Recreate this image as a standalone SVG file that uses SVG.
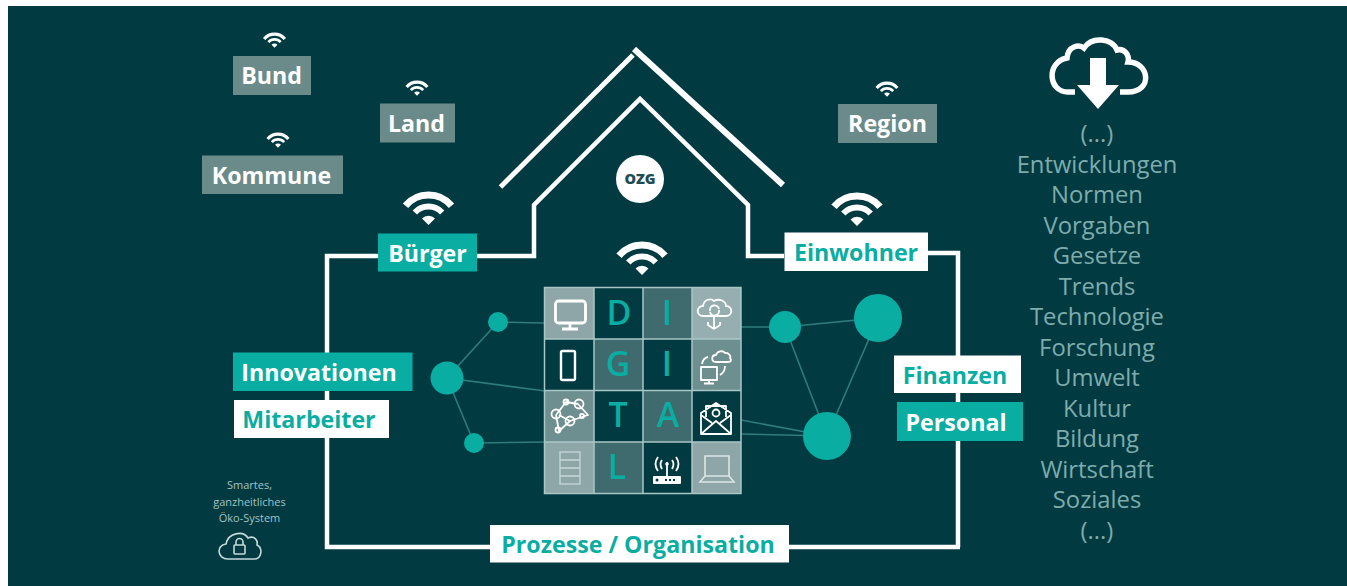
<svg xmlns="http://www.w3.org/2000/svg" width="1347" height="586" viewBox="0 0 1347 586">
<style>
text{font-family:"Open Sans","Noto Sans","Liberation Sans",sans-serif}
.lb{font-size:23.200px;font-weight:700;text-anchor:middle}
.w{fill:#fff}.t{fill:#09ada1}.g{fill:#6b8a8a}
.hs{fill:none;stroke:#fff;stroke-width:4.500}
.nl{stroke:#2f7c7c;stroke-width:1.600;fill:none}
.nd{fill:#09ada1}
.ic{fill:none;stroke:#fff;stroke-width:1.800;stroke-linejoin:round}
.big{font-size:34px;font-weight:600;text-anchor:middle;fill:#09ada1}
.rt{font-size:23.800px;fill:#7eacac;text-anchor:middle}
.sm{font-size:11px;fill:#a3c2c2;text-anchor:middle}
.cl{stroke:#a9c6c6;stroke-width:1.500}
</style>
<defs>
<g id="wifi">
<path d="M-23 -19.300A30 30 0 0 1 23 -19.300" transform="translate(0,17)" fill="none" stroke="#fff" stroke-width="7"/>
<path d="M-13.700 -12.400A18.500 18.500 0 0 1 13.700 -12.400" transform="translate(0,17)" fill="none" stroke="#fff" stroke-width="6"/>
<path d="M0 17L-6.500 10.500A9 9 0 0 1 6.500 10.500Z" fill="#fff"/>
</g>
</defs>
<rect width="1347" height="586" fill="#fff"/>
<rect x="8" y="6" width="1339" height="580" fill="#023a42"/>

<g id="connectors">
<path class="hs" d="M378 256H327V547H960M958 547V253H928M784 256H748V205L640 99L534 205V256H477"/>
<path d="M500.500 187L633 55" fill="none" stroke="#fff" stroke-width="5"/>
<path d="M634 49L783 185" fill="none" stroke="#fff" stroke-width="6"/>
<path class="nl" d="M498 322L545 323M498 322L447 378L474 443L545 442M447 378L545 391M741 327L785 327L878 318L827 436L785 327M741 420L827 436M741 434L827 436"/>
</g>

<g id="grid">
<rect x="544.500" y="287.500" width="49.500" height="51.500" fill="#8ea6a8"/>
<rect x="594" y="287.500" width="49" height="51.500" fill="#023a42"/>
<rect x="643" y="287.500" width="49" height="51.500" fill="#3f6a6e"/>
<rect x="692" y="287.500" width="49" height="51.500" fill="#97aeb0"/>
<rect x="544.500" y="339" width="49.500" height="51.500" fill="#023a42"/>
<rect x="594" y="339" width="49" height="51.500" fill="#3f6a6e"/>
<rect x="643" y="339" width="49" height="51.500" fill="#023a42"/>
<rect x="692" y="339" width="49" height="51.500" fill="#6e8f90"/>
<rect x="544.500" y="390.500" width="49.500" height="51.500" fill="#6e8f90"/>
<rect x="594" y="390.500" width="49" height="51.500" fill="#023a42"/>
<rect x="643" y="390.500" width="49" height="51.500" fill="#3f6a6e"/>
<rect x="692" y="390.500" width="49" height="51.500" fill="#023a42"/>
<rect x="544.500" y="442" width="49.500" height="51.500" fill="#8ea6a8"/>
<rect x="594" y="442" width="49" height="51.500" fill="#3f6a6e"/>
<rect x="643" y="442" width="49" height="51.500" fill="#023a42"/>
<rect x="692" y="442" width="49" height="51.500" fill="#8ea6a8"/>
<path class="cl" fill="none" d="M544.500 287.500H741V493.500H544.500ZM594 287.500V493.500M643 287.500V493.500M692 287.500V493.500M544.500 339H741M544.500 390.500H741M544.500 442H741"/>
<text class="big" x="619" y="325">D</text>
<text class="big" x="667" y="325">I</text>
<text class="big" x="618" y="376">G</text>
<text class="big" x="667" y="376">I</text>
<text class="big" x="618" y="427">T</text>
<text class="big" x="668" y="427">A</text>
<text class="big" x="617" y="479">L</text>
<g id="icon-monitor">
<rect x="555.500" y="301" width="30" height="22" rx="3" fill="none" stroke="#fff" stroke-width="2.800"/>
<path d="M570 323V328M562 329H578" fill="none" stroke="#fff" stroke-width="2.800"/>
</g>
<g id="icon-cloud-sync">
<path class="ic" d="M703 316C696 316 696 306 703 306C704 299 711 298 714 301C719 298 726 301 726 306C733 306 733 316 726 316ZM714 316V329M708 322V325L714 329M720 322V325L714 329"/>
<path class="ic" d="M710 311A4.500 4.500 0 0 1 719 309M719 310A4.500 4.500 0 0 1 710 312" stroke-width="1.300"/>
</g>
<rect id="icon-phone" class="ic" x="561" y="351" width="14" height="29" rx="1.500" style="stroke-width:2.400"/>
<g id="icon-computer-cloud">
<rect class="ic" x="701" y="367" width="16" height="13"/>
<path class="ic" d="M709 380V383M704 383.500H714M716 362C711 362 711 355 716 355C717 351 723 350 725 353C729 352 731 357 730 358C732 360 731 362 728 362Z"/>
<path class="ic" d="M702 364Q703 358 708 357M725 366Q725 372 720 375"/>
</g>
<g id="icon-people">
<path class="ic" d="M556 415L566 402L578 404L588 415L570 421L559 415M570 421L559 431L556 415"/>
<g fill="none" stroke="#fff" stroke-width="1.800">
<circle cx="556" cy="414" r="4.500"/><circle cx="566" cy="402" r="2.500"/><circle cx="579" cy="404" r="4.500"/><circle cx="570" cy="421" r="4.500"/><circle cx="582" cy="416" r="2"/><circle cx="558" cy="430" r="2.500"/>
</g>
</g>
<g id="icon-mail">
<path class="ic" d="M701 413L716 403L731 413V434H701ZM706 417V406H726V417M701 434L716 421L731 434M701 415L712 423M731 415L720 423"/>
<circle class="ic" cx="716" cy="413" r="3.500"/>
</g>
<g id="icon-server" fill="none" stroke="#c8d8d8" stroke-width="1.300">
<rect x="560" y="452" width="20" height="32"/>
<path d="M560 460H580M560 468H580M560 476H580"/>
</g>
<g id="icon-router">
<rect x="653" y="476" width="28" height="8" rx="1" fill="#fff"/>
<g fill="#023a42"><circle cx="657" cy="480" r="1.500"/><rect x="665" y="479" width="2" height="2"/><rect x="669" y="479" width="2" height="2"/><rect x="673" y="479" width="2" height="2"/></g>
<path class="ic" d="M667 476V462M658 471Q653 464 658 457M662 469Q659 464 662 460M676 471Q681 464 676 457M672 469Q675 464 672 460"/>
<circle cx="667" cy="464" r="1.800" fill="#fff"/>
</g>
<path id="icon-laptop" d="M705 456H729V476H705ZM705 476L700 482H734L729 476" fill="none" stroke="#dbe6e6" stroke-width="1.600"/>
</g>

<g id="net-left"><circle class="nd" cx="498" cy="322" r="10"/><circle class="nd" cx="447" cy="378" r="16.500"/><circle class="nd" cx="474" cy="443" r="10"/></g>
<g id="net-right"><circle class="nd" cx="785" cy="327" r="16"/><circle class="nd" cx="878" cy="318" r="24"/><circle class="nd" cx="827" cy="436" r="24"/></g>

<g id="wifi-center"><use href="#wifi" x="642" y="258"/></g>
<g id="ozg"><circle cx="640" cy="179" r="24" fill="#fff"/><text x="640" y="184" text-anchor="middle" font-size="14.500" font-weight="800" fill="#1f4d54">OZG</text></g>

<g id="bund"><use href="#wifi" transform="translate(274.500,40) scale(.45)"/><rect class="g" x="233" y="56" width="78" height="39"/><text class="lb w" x="271.500" y="84">Bund</text></g>
<g id="land"><use href="#wifi" transform="translate(417,88) scale(.45)"/><rect class="g" x="380" y="103.500" width="75" height="39"/><text class="lb w" x="416.500" y="132">Land</text></g>
<g id="kommune"><use href="#wifi" transform="translate(278,140) scale(.45)"/><rect class="g" x="202" y="155.500" width="141" height="38.500"/><text class="lb w" x="271.500" y="184">Kommune</text></g>
<g id="region"><use href="#wifi" transform="translate(887,89) scale(.45)"/><rect class="g" x="838" y="104" width="99" height="39"/><text class="lb w" x="887.500" y="132">Region</text></g>
<g id="buerger"><use href="#wifi" x="428.500" y="208"/><rect class="t" x="378" y="233.500" width="99" height="38"/><text class="lb w" x="427.500" y="262">Bürger</text></g>
<g id="einwohner"><use href="#wifi" x="857" y="209"/><rect class="w" x="784.500" y="232.500" width="143.500" height="38.500"/><text class="lb t" x="856" y="261">Einwohner</text></g>
<g id="finanzen"><rect class="w" x="894" y="355.500" width="127" height="37.500"/><text class="lb t" x="955" y="384">Finanzen</text></g>
<g id="personal"><rect class="t" x="897" y="402" width="126" height="39"/><text class="lb w" x="956" y="431">Personal</text></g>
<g id="innovationen"><rect class="t" x="233" y="352.500" width="179.500" height="38.500"/><text class="lb w" x="319" y="381">Innovationen</text></g>
<g id="mitarbeiter"><rect class="w" x="234" y="400" width="155" height="38"/><text class="lb t" x="309" y="428">Mitarbeiter</text></g>
<g id="prozesse"><rect class="w" x="490" y="525" width="299" height="37.500"/><text class="lb t" x="638" y="553">Prozesse / Organisation</text></g>

<g id="cloud-download">
<path d="M1075 92H1068C1048 92 1046 62 1067 58C1068 46 1079 44 1084 48C1092 36 1112 38 1117 50C1124 48 1130 55 1128 62C1150 62 1153 92 1128 92H1120" fill="none" stroke="#fff" stroke-width="5.500"/>
<path d="M1090 58H1106V85H1119L1098 109L1077 85H1090Z" fill="#fff"/>
</g>
<g id="list">
<text class="rt" x="1097" y="142">(...)</text>
<text class="rt" x="1097" y="172.500">Entwicklungen</text>
<text class="rt" x="1097" y="203">Normen</text>
<text class="rt" x="1097" y="233.500">Vorgaben</text>
<text class="rt" x="1097" y="264">Gesetze</text>
<text class="rt" x="1097" y="294.500">Trends</text>
<text class="rt" x="1097" y="325">Technologie</text>
<text class="rt" x="1097" y="355.500">Forschung</text>
<text class="rt" x="1097" y="386">Umwelt</text>
<text class="rt" x="1097" y="416.500">Kultur</text>
<text class="rt" x="1097" y="447">Bildung</text>
<text class="rt" x="1097" y="477.500">Wirtschaft</text>
<text class="rt" x="1097" y="508">Soziales</text>
<text class="rt" x="1097" y="538.500">(...)</text>
</g>
<g id="oeko">
<text class="sm" x="249.500" y="489">Smartes,</text>
<text class="sm" x="249.500" y="505.500">ganzheitliches</text>
<text class="sm" x="249.500" y="522">Öko-System</text>
<path d="M228 559C217 559 216 545 226 544C228 533 243 530 248 538C255 535 258 541 257 545C263 548 262 559 254 559Z" fill="none" stroke="#c5dada" stroke-width="1.600"/>
<rect x="234" y="545" width="11" height="9" fill="none" stroke="#c5dada" stroke-width="1.600" rx="1"/>
<path d="M236 545V542A3.500 3.500 0 0 1 243 542V545" fill="none" stroke="#c5dada" stroke-width="1.600"/>
</g>
</svg>
